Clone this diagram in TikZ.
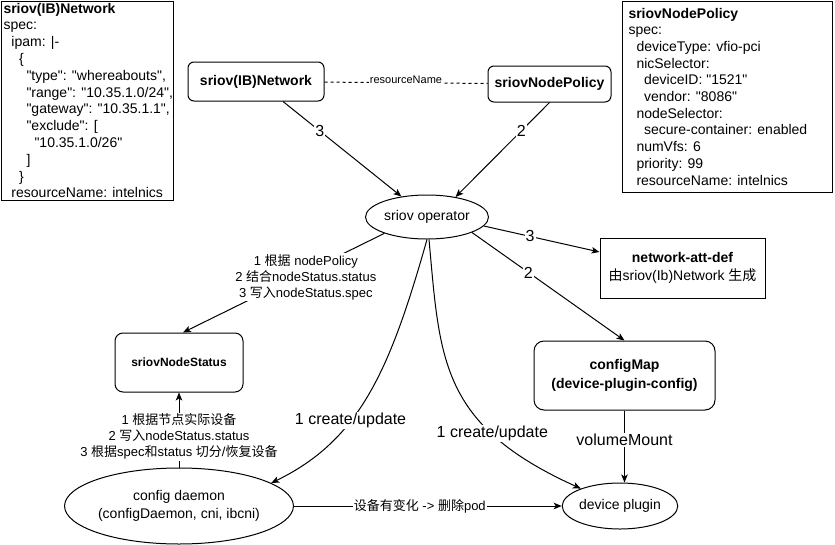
\documentclass[tikz,border=0pt]{standalone}
\usepackage{fontspec}
\setmainfont{Liberation Sans}[Ligatures=TeXOff]
\newfontfamily\cjk{Noto Sans CJK SC}
\newcommand\zh[1]{{\cjk #1}}
\usetikzlibrary{arrows.meta,calc,shapes.geometric}
\tikzset{
  fxi/.style={font=\fontsize{11}{13}\selectfont},
  fxii/.style={font=\fontsize{12}{14}\selectfont\bfseries},
  fxiii/.style={font=\fontsize{13}{16}\selectfont},
  fxiv/.style={font=\fontsize{14}{18.5}\selectfont},
  fxivb/.style={font=\fontsize{14}{18.5}\selectfont\bfseries},
  fxvi/.style={font=\fontsize{16}{19}\selectfont},
  codebox/.style={draw, inner sep=0pt},
  codeline/.style={font=\fontsize{14}{17}\selectfont, anchor=base west, inner sep=0pt},
  rbox/.style={draw, rounded corners=6pt, inner sep=2pt},
  sbox/.style={draw, inner sep=2pt},
  ell/.style={ellipse, draw, inner sep=0pt},
  arr/.style={-{Stealth[length=8pt,width=6.5pt,inset=2pt]}},
  lbl/.style={fill=white, inner sep=1pt},
}
\begin{document}
\begin{tikzpicture}[x=1pt,y=-1pt,line width=1pt]
\useasboundingbox (0,0) rectangle (835,544);

% left code box
\node[codebox, minimum width=172pt, minimum height=199pt] (netspec) at (87,100.5) {};
\foreach \i/\x/\t in {
  0/3/{\textbf{sriov(IB)Network}},
  1/3/{spec:},
  2/11/{ipam: |-},
  3/18.6/{\{},
  4/26/{"type": "whereabouts",},
  5/26/{"range": "10.35.1.0/24",},
  6/26/{"gateway": "10.35.1.1",},
  7/26/{"exclude": [},
  8/34/{"10.35.1.0/26"},
  9/26/{]},
  10/18.6/{\}},
  11/11/{resourceName: intelnics}}
  \node[codeline] (ns\i) at (\x, 13+16.8*\i) {\t};

% right code box
\node[codebox, minimum width=210pt, minimum height=191pt] (polspec) at (727,96.5) {};
\foreach \i/\x/\t in {
  0/628/{\textbf{sriovNodePolicy}},
  1/628/{spec:},
  2/636/{deviceType: vfio-pci},
  3/636/{nicSelector:},
  4/643.6/{deviceID: "1521"},
  5/643.6/{vendor: "8086"},
  6/636/{nodeSelector:},
  7/643.6/{secure-container: enabled},
  8/636/{numVfs: 6},
  9/636/{priority: 99},
  10/636/{resourceName: intelnics}}
  \node[codeline] (ps\i) at (\x, 18+16.7*\i) {\t};

% main nodes
\node[rbox, fxivb, minimum width=136pt, minimum height=39pt] (net) at (256,81.5) {sriov(IB)Network};
\node[rbox, fxivb, minimum width=123pt, minimum height=36pt] (policy) at (549.5,84) {sriovNodePolicy};
\node[ell, fxiv, minimum width=123pt, minimum height=44pt] (op) at (427,217) {sriov operator};
\node[sbox, fxiv, minimum width=165pt, minimum height=60pt, align=center] (nad) at (682.5,268)
  {\textbf{network-att-def}\\\zh{由}sriov(Ib)Network \zh{生成}};
\node[rbox, rounded corners=10pt, fxivb, minimum width=181pt, minimum height=69pt, align=center] (cm) at (624.5,375.5)
  {configMap\\(device-plugin-config)};
\node[rbox, rounded corners=8pt, fxii, minimum width=128pt, minimum height=59pt] (status) at (179,362.5) {sriovNodeStatus};
\node[ell, fxiv, minimum width=182pt, minimum height=76pt, align=center] (daemon) at (179,506)
  {config daemon\\(configDaemon, cni, ibcni)};
\node[ell, fxiv, minimum width=100pt, minimum height=46pt] (plugin) at (620,506) {device plugin};

% connectors
\draw[arr] ($(net.south)+(27,0)$) -- node[lbl,fxvi,pos=0.31]{3} (op);
\draw[arr] (policy.south) -- node[lbl,fxvi,pos=0.3]{2} (op.35);
\draw[dash pattern=on 3pt off 3pt] (net) -- node[lbl,fxi,yshift=3pt]{resourceName} (policy);
\draw[arr] (op.-9) -- node[lbl,fxvi,pos=0.4]{3} ($(nad.west)+(0,-16)$);
\draw[arr] (op.-19) -- node[lbl,fxvi,pos=0.37]{2} (cm.north);
\draw[arr] (op.201) -- node[lbl,fxiii,align=center,pos=0.39,yshift=-5pt]
  {1 \zh{根据} nodePolicy\\2 \zh{结合}nodeStatus.status\\3 \zh{写入}nodeStatus.spec} ($(status.north)+(4,0)$);
\draw[arr] (op.south) .. controls (390,370) and (360,440) .. node[lbl,fxvi,pos=0.62]{1 create/update} (daemon.14);
\draw[arr] ($(op.south)+(2,0)$) .. controls (440,360) and (440,425) .. node[lbl,fxvi,pos=0.72]{1 create/update} (plugin.156);
\draw[arr] (cm.south) -- node[lbl,fxvi,pos=0.41]{volumeMount} (cm.south |- plugin.north);
\draw[arr] (daemon.north) -- node[lbl,fxiii,align=center,pos=0.41]
  {1 \zh{根据节点实际设备}\\2 \zh{写入}nodeStatus.status\\3 \zh{根据}spec\zh{和}status \zh{切分}/\zh{恢复设备}} (status.south);
\draw[arr] (daemon.east) -- node[lbl,fxiii,pos=0.47]{\zh{设备有变化} -> \zh{删除}pod} (plugin.west);
\end{tikzpicture}
\end{document}
